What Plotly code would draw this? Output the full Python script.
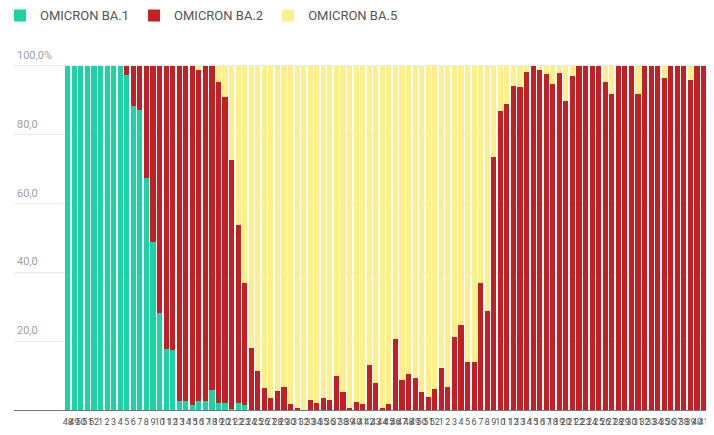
import plotly.graph_objects as go

weeks = list(range(48, 53)) + list(range(1, 53)) + list(range(1, 43))

ba1 = [100, 100, 100, 100, 100, 100, 100, 100, 100, 97.4,
       88.2, 87.0, 67.3, 48.9, 28.1, 17.6, 17.4, 2.6, 2.6, 1.5,
       2.6, 2.6, 5.8, 2.0, 2.0, 0.4, 2.0, 1.5, 0, 0,
       0, 0, 0, 0, 0, 0, 0, 0, 0, 0,
       0, 0, 0, 0, 0, 0, 0, 0, 0, 0,
       0, 0, 0, 0, 0, 0, 0, 0, 0, 0,
       0, 0, 0, 0, 0, 0, 0, 0, 0, 0,
       0, 0, 0, 0, 0, 0, 0, 0, 0, 0,
       0, 0, 0, 0, 0, 0, 0, 0, 0, 0,
       0, 0, 0, 0, 0, 0, 0, 0, 0]

ba2 = [0, 0, 0, 0, 0, 0, 0, 0, 0, 2.6,
       11.8, 13.0, 32.7, 51.1, 71.9, 82.4, 82.6, 97.4, 97.4, 98.5,
       96.0, 97.4, 94.2, 93.4, 89.0, 72.3, 51.8, 35.4, 18.1, 11.3,
       6.3, 3.4, 5.6, 6.6, 1.7, 0.5, 0, 2.9, 2.1, 3.6,
       2.9, 10.0, 5.3, 0.5, 2.4, 1.8, 13.1, 7.9, 0.5, 1.7,
       20.5, 8.7, 10.5, 9.2, 5.3, 3.9, 6.0, 12.1, 6.6, 21.3,
       24.7, 14.0, 14.0, 36.8, 28.7, 73.6, 86.7, 88.9, 94.2, 93.8,
       98.3, 100, 98.8, 97.6, 94.7, 97.9, 89.8, 97.0, 100, 100,
       100, 100, 95.2, 91.8, 100, 100, 100, 91.8, 100, 100,
       100, 96.4, 100, 100, 100, 95.9, 100, 100, 100]

ba5 = [0, 0, 0, 0, 0, 0, 0, 0, 0, 0,
       0, 0, 0, 0, 0, 0, 0, 0, 0, 0,
       1.4, 0, 0, 4.6, 9.0, 27.3, 46.2, 63.1, 81.9, 88.7,
       93.7, 96.6, 94.4, 93.4, 98.3, 99.5, 100, 97.1, 97.9, 96.4,
       97.1, 90.0, 94.7, 99.5, 97.6, 98.2, 86.9, 92.1, 99.5, 98.3,
       79.5, 91.3, 89.5, 90.8, 94.7, 96.1, 94.0, 87.9, 93.4, 78.7,
       75.3, 86.0, 86.0, 63.2, 71.3, 26.4, 13.3, 11.1, 5.8, 6.2,
       1.7, 0, 1.2, 2.4, 5.3, 2.1, 10.2, 3.0, 0, 0,
       0, 0, 4.8, 8.2, 0, 0, 0, 8.2, 0, 0,
       0, 3.6, 0, 0, 0, 4.1, 0, 0, 0]

series_names = ["OMICRON BA.1", "OMICRON BA.2", "OMICRON BA.5"]
series_colors = ["#1bd3a3", "#c51f26", "#fdef89"]

y_tickvals = [20, 40, 60, 80, 100]
y_ticktext = ["20,0", "40,0", "60,0", "80,0", "100,0%"]

x = list(range(len(weeks)))

fig = go.Figure()
for name, vals, col in zip(series_names, [ba1, ba2, ba5], series_colors):
    fig.add_trace(go.Bar(x=x, y=vals, name=name, marker=dict(color=col, line=dict(width=0))))

fig.update_layout(
    width=706, height=427,
    barmode="stack", bargap=0.22,
    margin=dict(l=6, r=0, t=37, b=25, autoexpand=False),
    paper_bgcolor="white", plot_bgcolor="white",
    font=dict(family="Roboto", color="#666"),
    showlegend=True,
    legend=dict(orientation="h", xref="paper", yref="paper",
                x=-0.02, y=1.122, xanchor="left", yanchor="top",
                font=dict(size=13, color="#555"),
                traceorder="normal", itemwidth=30),
)
fig.update_xaxes(
    range=[-8.2, 98.6],
    tickmode="array", tickvals=x, ticktext=[str(w) for w in weeks],
    tickangle=0, tickfont=dict(size=9, color="#555"),
    ticklabelstandoff=3,
    showgrid=False, zeroline=False,
    showline=True, linecolor="#777", linewidth=1,
    ticks="",
)
fig.update_yaxes(
    range=[0, 106],
    tickmode="array", tickvals=y_tickvals, ticktext=y_ticktext,
    ticklabelposition="inside top", ticklabelstandoff=0, ticklabelshift=-3,
    tickfont=dict(size=11, color="#a0a0a0"),
    showgrid=True, gridcolor="#ebebeb", gridwidth=1,
    zeroline=False, showline=False, ticks="",
)

fig.write_html("out.html")
